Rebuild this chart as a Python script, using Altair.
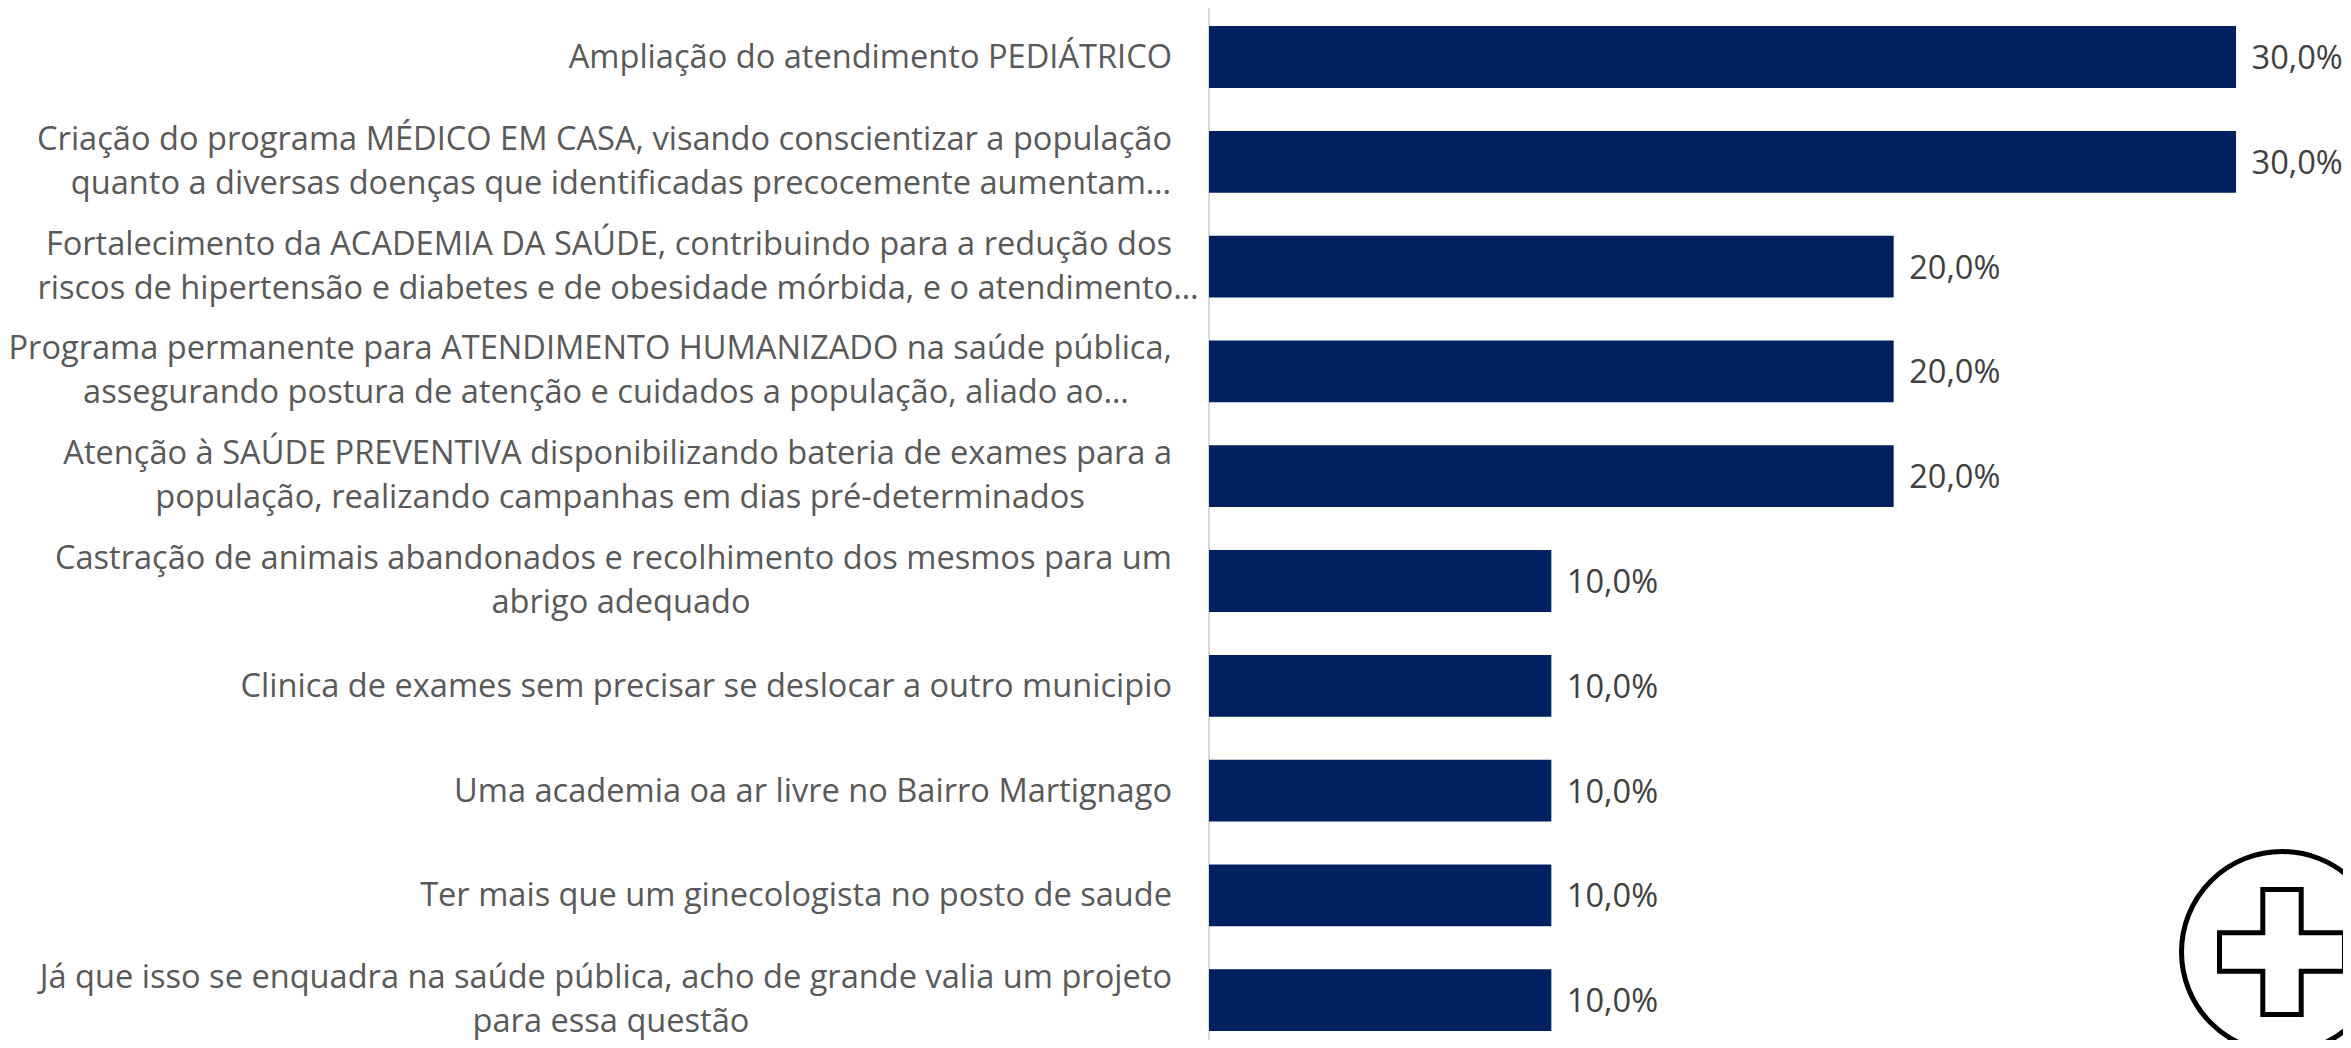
import altair as alt
import pandas as pd

LINE_1 = [
    "Ampliação do atendimento PEDIÁTRICO",
    "Criação do programa MÉDICO EM CASA, visando conscientizar a população",
    "Fortalecimento da ACADEMIA DA SAÚDE, contribuindo para a redução dos",
    "Programa permanente para ATENDIMENTO HUMANIZADO na saúde pública,",
    "Atenção à SAÚDE PREVENTIVA disponibilizando bateria de exames para a",
    "Castração de animais abandonados e recolhimento dos mesmos para um",
    "Clinica de exames sem precisar se deslocar a outro municipio",
    "Uma academia oa ar livre no Bairro Martignago",
    "Ter mais que um ginecologista no posto de saude",
    "Já que isso se enquadra na saúde pública, acho de grande valia um projeto",
]
LINE_2 = [
    "",
    "quanto a diversas doenças que identificadas precocemente aumentam…",
    "riscos de hipertensão e diabetes e de obesidade mórbida, e o atendimento…",
    "assegurando postura de atenção e cuidados a população, aliado ao…",
    "população, realizando campanhas em dias pré-determinados",
    "abrigo adequado",
    "",
    "",
    "",
    "para essa questão",
]
VALUES = [0.30, 0.30, 0.20, 0.20, 0.20, 0.10, 0.10, 0.10, 0.10, 0.10]
VALUE_LABELS = ["30,0%", "30,0%", "20,0%", "20,0%", "20,0%", "10,0%", "10,0%", "10,0%", "10,0%", "10,0%"]

# layout only: horizontal centre of each second label line, in px from the axis
LINE_2_CENTRE = [0, -588, -591, -603, -589, -588, 0, 0, 0, -598]

FONT = "Open Sans"
FONT_SIZE = 32.6
LABEL_GREY = "#595959"
VALUE_GREY = "#404040"
BAR = "#002060"
AXIS_GREY = "#d9d9d9"
LEFT = 1201
W = 1134
H = 1032

df = pd.DataFrame({
    "row": list(range(10)),
    "l1": LINE_1,
    "l2": LINE_2,
    "v": VALUES,
    "t": VALUE_LABELS,
    "c2": LINE_2_CENTRE,
})
two = df[df.l2 != ""]
one = df[df.l2 == ""]

y_scale = alt.Scale(domain=list(range(10)), range=[-3.4, 1044.6], paddingInner=0.41, paddingOuter=0.205)
y_enc = alt.Y("row:O", scale=y_scale, axis=None)
y_point = alt.Y("row:O", scale=y_scale, axis=None, bandPosition=0.5)
x_enc = alt.X("v:Q", scale=alt.Scale(domain=[0, 0.3], range=[0, 1027]), axis=None)

bars = alt.Chart(df).mark_bar(color=BAR).encode(x=x_enc, y=y_enc)
axis_line = alt.Chart(pd.DataFrame({"k": ["axis"]})).mark_rule(color=AXIS_GREY, strokeWidth=2).encode(
    x=alt.value(0), y=alt.value(-3.4), y2=alt.value(H)
)
vals = alt.Chart(df).mark_text(
    align="left", baseline="middle", dx=15.5, dy=2, font=FONT, fontSize=FONT_SIZE, color=VALUE_GREY
).encode(x=x_enc, y=y_point, text="t:N")


def label(frame, col, dy, align, x):
    return alt.Chart(frame).mark_text(
        align=align, baseline="middle", dy=dy, font=FONT, fontSize=FONT_SIZE, color=LABEL_GREY
    ).encode(x=x, y=y_point, text=f"{col}:N")


singles = label(one, "l1", 1, "right", alt.value(-37))
firsts = label(two, "l1", -22, "right", alt.value(-37))
seconds = label(two, "l2", 22, "center", alt.X("c2:Q", scale=None, axis=None))

disc = alt.Chart(pd.DataFrame({"k": ["icon"]})).mark_point(
    shape="circle", size=40400, filled=False, stroke="black", strokeWidth=5, opacity=1
).encode(x=alt.value(1073), y=alt.value(944))
plus = alt.Chart(pd.DataFrame({"k": ["icon"]})).mark_point(
    shape="M-0.307,-1H0.307V-0.307H1V0.307H0.307V1H-0.307V0.307H-1V-0.307H-0.307Z",
    size=15625, filled=False, stroke="black", strokeWidth=5, opacity=1
).encode(x=alt.value(1073), y=alt.value(944))

chart = (
    alt.layer(axis_line, bars, vals, singles, firsts, seconds, disc, plus)
    .resolve_scale(x="shared", y="shared")
    .properties(
        width=W,
        height=H,
        padding={"left": LEFT, "top": 0, "right": 0, "bottom": 0},
        autosize=alt.AutoSizeParams(type="none"),
        background="white",
    )
    .configure_view(stroke=None)
)
chart.save("out.html", embed_options={"renderer": "svg", "actions": False})
